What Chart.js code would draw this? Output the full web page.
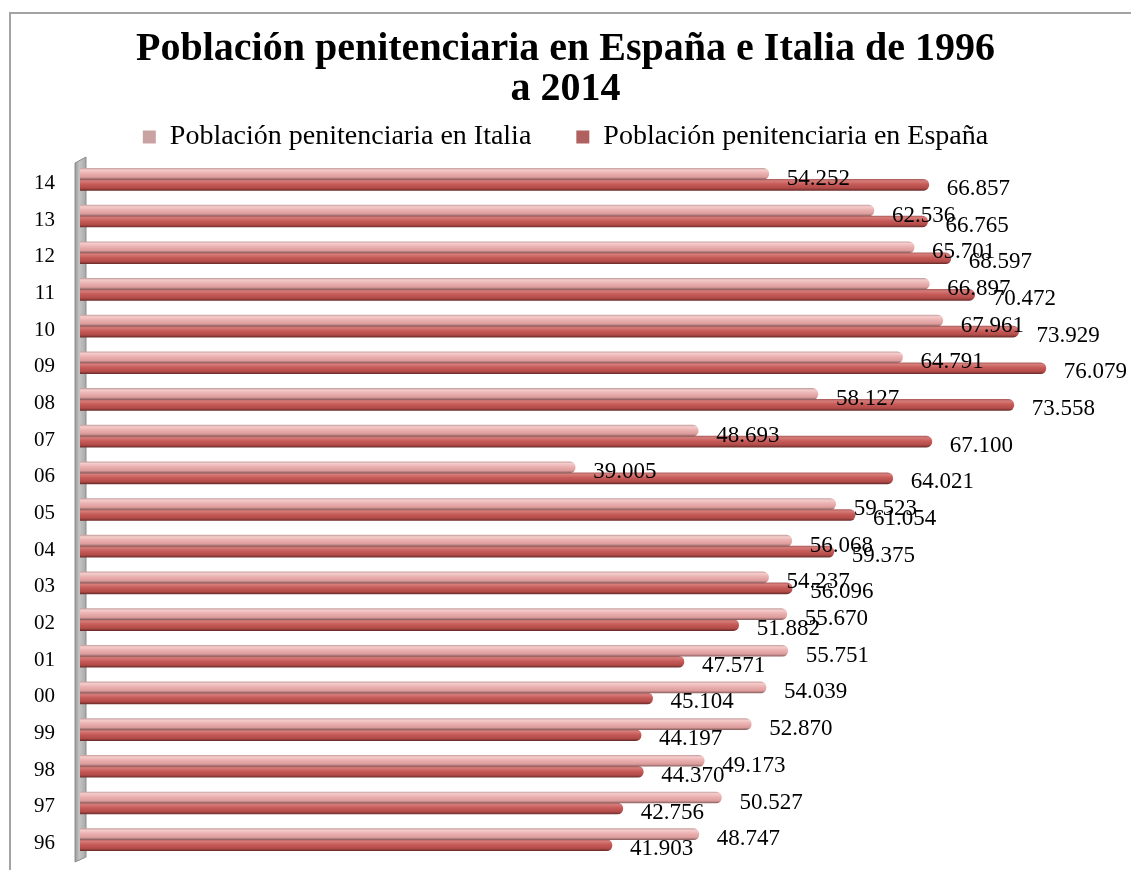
<!DOCTYPE html>
<html>
<head>
<meta charset="utf-8">
<title>Población penitenciaria</title>
<script src="https://cdn.jsdelivr.net/npm/chart.js@4"></script>
<style>
  html, body { margin: 0; padding: 0; background: #fff; overflow: hidden; }
  .frame { position: absolute; left: 9px; top: 12px; width: 1140px; height: 900px; border: 2px solid #a3a3a3; box-sizing: border-box; }
  #prisonChart { position: absolute; left: 0; top: 0; }
</style>
</head>
<body>
<div class="frame"></div>
<canvas id="prisonChart" width="1131" height="870"></canvas>
<script>
// años (dos cifras), de abajo hacia arriba en el gráfico
const years = ['96', '97', '98', '99', '00', '01', '02', '03', '04', '05',
               '06', '07', '08', '09', '10', '11', '12', '13', '14'];
const italia = [48747, 50527, 49173, 52870, 54039, 55751, 55670, 54237, 56068, 59523,
                39005, 48693, 58127, 64791, 67961, 66897, 65701, 62536, 54252];
const espana = [41903, 42756, 44370, 44197, 45104, 47571, 51882, 56096, 59375, 61054,
                64021, 67100, 73558, 76079, 73929, 70472, 68597, 66765, 66857];
const seriesNames = ['Población penitenciaria en Italia', 'Población penitenciaria en España'];
const titleLines = ['Población penitenciaria en España e Italia de 1996', 'a 2014'];

const BAR = 11;
const pinkStops = [[0, '#c9a3a2'], [0.15, '#f4cccb'], [0.45, '#eab1b0'], [0.8, '#dc9c9b'], [1, '#8f6463']];
const redStops = [[0, '#b0615f'], [0.15, '#d67c79'], [0.45, '#c65b58'], [0.8, '#b24b48'], [1, '#6e2e2c']];

function fmt(v) {
    return String(v).replace(/\B(?=(\d{3})+(?!\d))/g, '.');
}

// sombreado de cilindro, calculado a partir de la posición de la barra en el eje
function cylinder(c, stops) {
    const y = c.chart.scales.y;
    if (c.type !== 'data' || !y) return stops[2][1];
    const mid = y.getPixelForValue(c.dataIndex) + (c.datasetIndex === 0 ? -BAR / 2 : BAR / 2);
    if (!Number.isFinite(mid)) return stops[2][1];
    const g = c.chart.ctx.createLinearGradient(0, mid - BAR / 2, 0, mid + BAR / 2);
    stops.forEach(([p, col]) => g.addColorStop(p, col));
    return g;
}

const wall = {
    id: 'wall',
    beforeDatasetsDraw(chart) {
        const { ctx, chartArea: { left, top, bottom } } = chart;
        ctx.save();
        const g = ctx.createLinearGradient(left - 5, 0, left + 6, 0);
        g.addColorStop(0, '#9a9a9a');
        g.addColorStop(0.4, '#c4c4c4');
        g.addColorStop(1, '#a8a8a8');
        ctx.beginPath();
        ctx.moveTo(left - 5, top + 2);
        ctx.lineTo(left + 6, top - 4);
        ctx.lineTo(left + 6, bottom - 1);
        ctx.lineTo(left - 5, bottom + 4);
        ctx.closePath();
        ctx.fillStyle = g;
        ctx.fill();
        ctx.strokeStyle = '#8c8c8c';
        ctx.lineWidth = 1;
        ctx.stroke();
        ctx.restore();
    }
};

const valueLabels = {
    id: 'valueLabels',
    afterDatasetsDraw(chart) {
        const ctx = chart.ctx;
        ctx.save();
        ctx.font = '23px "Liberation Serif"';
        ctx.fillStyle = '#000';
        ctx.textAlign = 'left';
        ctx.textBaseline = 'middle';
        chart.data.datasets.forEach((ds, di) => {
            chart.getDatasetMeta(di).data.forEach((bar, i) => {
                ctx.fillText(fmt(ds.data[i]), bar.x + 18, bar.y + (di === 0 ? 5 : 4));
            });
        });
        ctx.restore();
    }
};

new Chart(document.getElementById('prisonChart'), {
    type: 'bar',
    data: {
        labels: years,
        datasets: [
            { label: seriesNames[0], data: italia, backgroundColor: c => cylinder(c, pinkStops) },
            { label: seriesNames[1], data: espana, backgroundColor: c => cylinder(c, redStops) }
        ]
    },
    options: {
        indexAxis: 'y',
        responsive: false,
        animation: false,
        layout: { padding: { left: 10, right: 10, top: 0, bottom: 12 } },
        datasets: { bar: { barThickness: BAR, borderRadius: 5.5, borderSkipped: 'start' } },
        scales: {
            x: { display: false, min: 0, max: 82000 },
            y: {
                reverse: true,
                grid: { display: false, drawTicks: false },
                border: { display: false },
                ticks: { padding: 25, labelOffset: 4, color: '#000', font: { family: 'Liberation Serif', size: 21 } },
                afterFit(s) {
                    s.width = 70;
                    s.paddingTop = 0;
                    s.paddingBottom = 0;
                }
            }
        },
        plugins: {
            title: {
                display: true,
                text: titleLines,
                color: '#000',
                font: { family: 'Liberation Serif', size: 40, weight: 'bold', lineHeight: 1.0 },
                padding: { top: 30, bottom: -32 }
            },
            legend: {
                labels: {
                    color: '#000',
                    font: { family: 'Liberation Serif', size: 28, lineHeight: 1.1 },
                    boxWidth: 13,
                    boxHeight: 13,
                    padding: 45
                }
            },
            tooltip: { enabled: false }
        }
    },
    plugins: [wall, valueLabels]
});
</script>
</body>
</html>
